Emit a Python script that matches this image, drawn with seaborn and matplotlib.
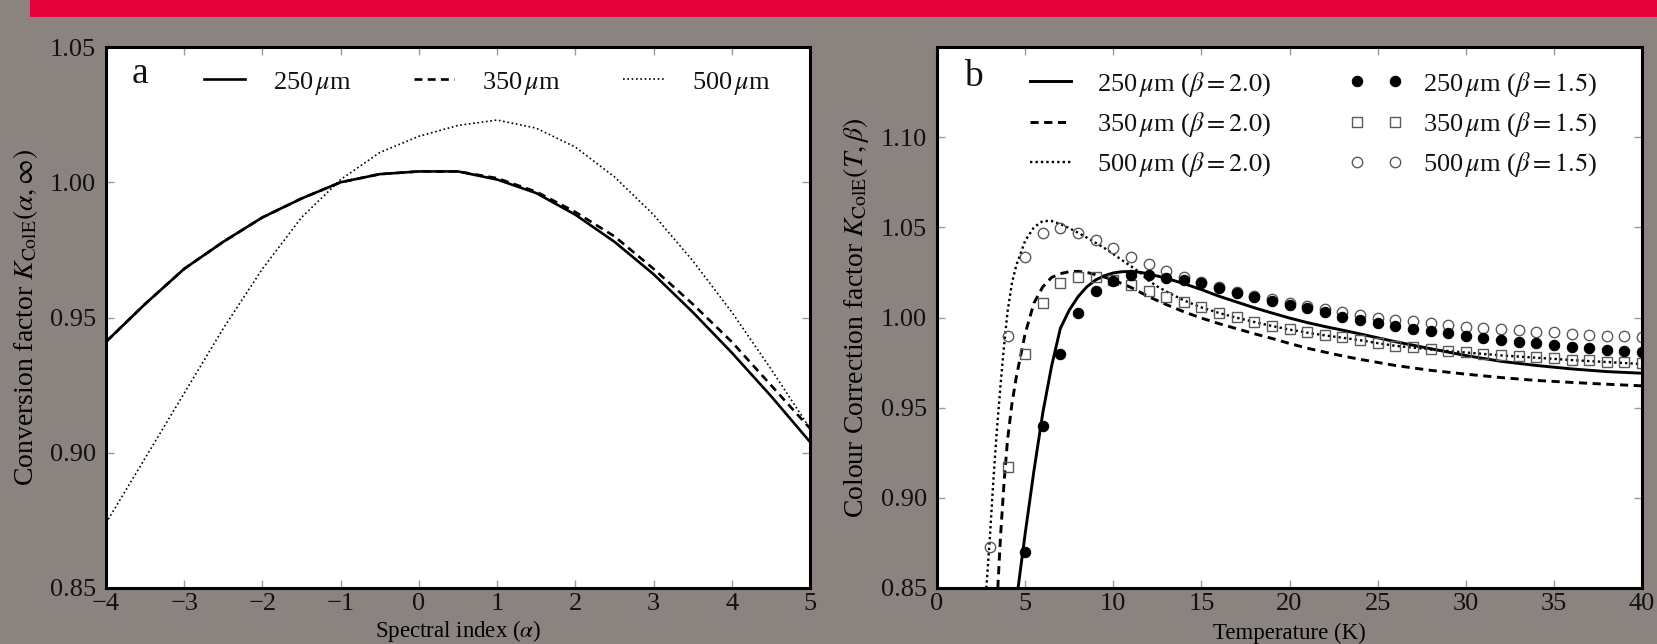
import matplotlib
matplotlib.use('Agg')
import matplotlib.pyplot as plt
import matplotlib.patches as mpatches
import seaborn as sns

# ---- panel a: conversion factor vs spectral index ----
alpha = [-4, -3.5, -3, -2.5, -2, -1.5, -1, -0.5, 0, 0.5,
         1, 1.5, 2, 2.5, 3, 3.5, 4, 4.5, 5]
k250_a = [0.941, 0.955, 0.968, 0.978, 0.987, 0.994, 1.000, 1.003, 1.004, 1.004,
          1.001, 0.996, 0.988, 0.978, 0.966, 0.952, 0.937, 0.921, 0.904]
k350_a = [0.941, 0.955, 0.968, 0.978, 0.987, 0.994, 1.000, 1.003, 1.004, 1.004,
          1.0015, 0.9965, 0.989, 0.980, 0.968, 0.955, 0.941, 0.925, 0.909]
k500_a = [0.874, 0.898, 0.922, 0.946, 0.968, 0.987, 1.001, 1.011, 1.017, 1.021,
          1.023, 1.020, 1.013, 1.002, 0.988, 0.971, 0.952, 0.931, 0.909]

# ---- panel b: colour correction vs temperature ----
t_250_b20 = [4.6, 5.0, 5.5, 6.0, 6.5, 7.0, 7.5, 8.0, 8.5, 9.0, 9.5, 10, 10.5, 11,
             11.5, 12, 13, 14, 15, 16, 17, 18, 19, 20, 21, 22, 23, 24, 26, 28,
             30, 32, 34, 36, 38, 40]
k_250_b20 = [0.850, 0.880, 0.915, 0.947, 0.973, 0.994, 1.004, 1.0115, 1.017, 1.0208,
             1.0232, 1.0247, 1.0254, 1.0255, 1.0251, 1.0242, 1.0218, 1.0188, 1.0155,
             1.0118, 1.0086, 1.0054, 1.0025, 0.9997, 0.9972, 0.9950, 0.9930, 0.9909,
             0.9866, 0.9827, 0.9789, 0.9757, 0.9734, 0.9715, 0.9700, 0.9691]

t_350_b20 = [3.45, 3.6, 3.8, 4.0, 4.25, 4.5, 5.0, 5.5, 6.0, 6.5, 7.0, 7.5, 8.0, 8.5,
             9.0, 9.5, 10, 11, 12, 13, 14, 15, 16, 17, 18, 19, 20, 21, 22, 23, 24,
             26, 28, 30, 32, 34, 36, 38, 40]
k_350_b20 = [0.850, 0.878, 0.908, 0.932, 0.952, 0.967, 0.991, 1.008, 1.017, 1.0222,
             1.0243, 1.0254, 1.0256, 1.0250, 1.0238, 1.0224, 1.0208, 1.0167, 1.0116,
             1.0072, 1.0032, 0.9997, 0.9966, 0.9938, 0.9910, 0.9884, 0.9856, 0.9830,
             0.9808, 0.9787, 0.9768, 0.9734, 0.9707, 0.9686, 0.9667, 0.9651, 0.9640,
             0.9630, 0.9621]

t_500_b20 = [2.8, 3.0, 3.2, 3.4, 3.6, 3.8, 4.0, 4.25, 4.5, 5.0, 5.5, 6.0, 6.5, 7.0,
             7.5, 8.0, 8.5, 9.0, 9.5, 10, 10.5, 11, 11.5, 12, 12.5, 13, 14, 15, 16,
             17, 18, 19, 20, 21, 22, 23, 24, 25, 26, 28, 30, 32, 34, 36, 38, 40]
k_500_b20 = [0.850, 0.878, 0.910, 0.938, 0.962, 0.984, 1.003, 1.019, 1.029, 1.0425,
             1.0500, 1.0535, 1.0535, 1.0518, 1.0496, 1.0470, 1.0443, 1.0414, 1.0385,
             1.0352, 1.0318, 1.0285, 1.0250, 1.0205, 1.0172, 1.0145, 1.0095, 1.0056,
             1.0025, 0.9999, 0.9975, 0.9953, 0.9933, 0.9916, 0.9901, 0.9888, 0.9874,
             0.9858, 0.9843, 0.9823, 0.9806, 0.9790, 0.9777, 0.9764, 0.9753, 0.9742]

t_250_b15 = list(range(5, 41))
k_250_b15 = [0.870, 0.940, 0.980, 1.0026, 1.0145, 1.0205, 1.0233, 1.0233, 1.0220,
             1.0209, 1.0191, 1.0162, 1.0136, 1.0111, 1.0090, 1.0068, 1.0050, 1.0028,
             1.0004, 0.9986, 0.9972, 0.9953, 0.9939, 0.9924, 0.9913, 0.9900, 0.9889,
             0.9877, 0.9866, 0.9857, 0.9848, 0.9838, 0.9829, 0.9822, 0.9813, 0.9807]

t_350_b15 = list(range(4, 41))
k_350_b15 = [0.917, 0.980, 1.0081, 1.0191, 1.0227, 1.0227, 1.0209, 1.0178, 1.0147,
             1.0114, 1.0087, 1.0056, 1.0026, 1.0001, 0.9977, 0.9955, 0.9935, 0.9919,
             0.9904, 0.9892, 0.9877, 0.9859, 0.9844, 0.9834, 0.9824, 0.9817, 0.9809,
             0.9800, 0.9793, 0.9785, 0.9780, 0.9774, 0.9767, 0.9762, 0.9756, 0.9751,
             0.9745]

t_500_b15 = list(range(3, 41))
k_500_b15 = [0.8727, 0.9899, 1.0333, 1.0470, 1.0497, 1.0470, 1.0428, 1.0384, 1.0337,
             1.0297, 1.0260, 1.0222, 1.0195, 1.0168, 1.0143, 1.0120, 1.0100, 1.0080,
             1.0062, 1.0045, 1.0028, 1.0014, 0.9998, 0.9987, 0.9980, 0.9972, 0.9960,
             0.9950, 0.9944, 0.9935, 0.9928, 0.9922, 0.9917, 0.9910, 0.9904, 0.9900,
             0.9895, 0.9892]

FS = 19
plt.rcParams['font.family'] = ['Liberation Serif', 'DejaVu Serif']
plt.rcParams['mathtext.fontset'] = 'stix'
plt.rcParams['font.size'] = FS
plt.rcParams['text.color'] = '#111111'

W, H = 1658, 644
fig = plt.figure(figsize=(W / 100, H / 100), dpi=100)
fig.patch.set_facecolor('#8b837f')
# red banner along the top
fig.add_artist(mpatches.Rectangle((30 / W, 1 - 17 / H), 1, 17 / H,
                                  transform=fig.transFigure, color='#e3003b', lw=0))

ax_a = fig.add_axes([106 / W, 56 / H, 704 / W, 541 / H])
ax_b = fig.add_axes([937 / W, 56 / H, 705 / W, 541 / H])


def style_axes(ax, xlim, ylim, xticks, yticks, xlabel, ylabel):
    ax.set_facecolor('white')
    ax.set_xlim(*xlim)
    ax.set_ylim(*ylim)
    ax.set_xticks(xticks)
    ax.set_yticks(yticks)
    ax.set_yticklabels([f'{v:.2f}' for v in yticks])
    ax.tick_params(direction='in', length=6, width=1, color='#9a9a9a',
                   top=True, right=True, labelsize=FS, labelcolor='#111111')
    ax.tick_params(axis='x', pad=3.5)
    ax.tick_params(axis='y', pad=7)
    for sp in ax.spines.values():
        sp.set_linewidth(2.2)
        sp.set_color('black')
    ax.set_xlabel(xlabel, fontsize=16.5, va='bottom')
    ax.set_ylabel(ylabel, fontsize=20)
    # x label sits right at the bottom edge of the slide
    ax.xaxis.set_label_coords(0.5, -56 / 541)
    ax.yaxis.set_label_coords(-0.094, 0.5)


# panel a
sns.lineplot(x=alpha, y=k250_a, ax=ax_a, color='k', lw=1.9, linestyle='-',
             legend=False, label=r'250$\,\mu$m')
sns.lineplot(x=alpha, y=k350_a, ax=ax_a, color='k', lw=1.9,
             linestyle=(0, (3.0, 2.0)), legend=False, label=r'350$\,\mu$m')
sns.lineplot(x=alpha, y=k500_a, ax=ax_a, color='k', lw=1.2,
             linestyle=(0, (1.0, 1.6)), legend=False, label=r'500$\,\mu$m')
style_axes(ax_a, (-4, 5), (0.85, 1.05), list(range(-4, 6)),
           [0.85, 0.90, 0.95, 1.00, 1.05],
           r'Spectral index ($\alpha$)',
           r'Conversion factor $K_{\rm ColE}(\alpha,\infty)$')
ax_a.legend(loc='upper left', bbox_to_anchor=(0.139, 0.958), ncol=3,
            frameon=False, borderpad=0, borderaxespad=0, handlelength=1.55,
            handletextpad=1.06, columnspacing=2.35, fontsize=FS)
ax_a.text(0.036, 0.933, 'a', transform=ax_a.transAxes, fontsize=27,
          va='baseline', ha='left')

# panel b: lines (beta = 2.0)
line_handles = []
sns.lineplot(x=t_250_b20, y=k_250_b20, ax=ax_b, color='k', lw=2.1, linestyle='-',
             legend=False)
line_handles.append(ax_b.lines[-1])
sns.lineplot(x=t_350_b20, y=k_350_b20, ax=ax_b, color='k', lw=2.1,
             linestyle=(0, (2.8, 1.9)), legend=False)
line_handles.append(ax_b.lines[-1])
sns.lineplot(x=t_500_b20, y=k_500_b20, ax=ax_b, color='k', lw=1.7,
             linestyle=(0, (1.0, 1.3)), legend=False)
line_handles.append(ax_b.lines[-1])

# panel b: points (beta = 1.5)
sns.lineplot(x=t_500_b15, y=k_500_b15, ax=ax_b, linestyle='', marker='o',
             markersize=7.5, markerfacecolor='none', markeredgecolor='#5a5a5a',
             markeredgewidth=1.0, color='#5a5a5a', legend=False)
h500 = ax_b.lines[-1]
sns.lineplot(x=t_350_b15, y=k_350_b15, ax=ax_b, linestyle='', marker='s',
             markersize=7, markerfacecolor='none', markeredgecolor='#5a5a5a',
             markeredgewidth=1.0, color='#5a5a5a', legend=False)
h350 = ax_b.lines[-1]
sns.lineplot(x=t_250_b15, y=k_250_b15, ax=ax_b, linestyle='', marker='o',
             markersize=7.5, markerfacecolor='black', markeredgecolor='black',
             color='black', legend=False)
h250 = ax_b.lines[-1]

style_axes(ax_b, (0, 40), (0.85, 1.15), list(range(0, 41, 5)),
           [0.85, 0.90, 0.95, 1.00, 1.05, 1.10],
           'Temperature (K)',
           r'Colour Correction factor $K_{\rm ColE}(T,\beta)$')

leg1 = ax_b.legend(line_handles,
                   [r'250$\,\mu$m ($\beta = 2.0$)', r'350$\,\mu$m ($\beta = 2.0$)',
                    r'500$\,\mu$m ($\beta = 2.0$)'],
                   loc='upper left', bbox_to_anchor=(0.132, 0.958), frameon=False,
                   borderpad=0, borderaxespad=0, handlelength=1.55,
                   handletextpad=1.0, labelspacing=0.42, fontsize=FS)
ax_b.add_artist(leg1)
ax_b.legend([h250, h350, h500],
            [r'250$\,\mu$m ($\beta = 1.5$)', r'350$\,\mu$m ($\beta = 1.5$)',
             r'500$\,\mu$m ($\beta = 1.5$)'],
            loc='upper left', bbox_to_anchor=(0.584, 0.958), frameon=False,
            borderpad=0, borderaxespad=0, numpoints=2, handlelength=2.05,
            handletextpad=0.75, labelspacing=0.42, fontsize=FS)
ax_b.text(0.039, 0.928, 'b', transform=ax_b.transAxes, fontsize=27,
          va='baseline', ha='left')

fig.savefig('out.png', dpi=100, facecolor=fig.get_facecolor())
